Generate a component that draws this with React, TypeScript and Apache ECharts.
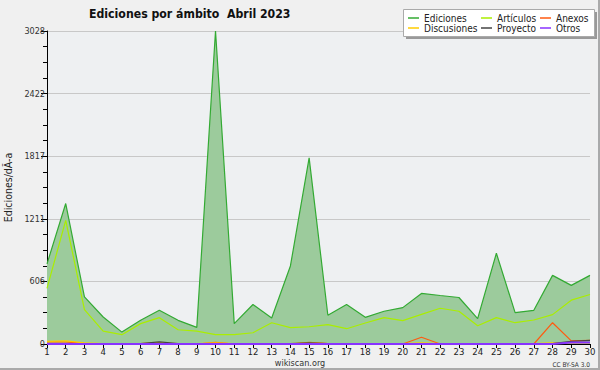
import React, { useEffect, useRef } from "react";
import * as echarts from "echarts";

const days = Array.from({ length: 30 }, (_, i) => String(i + 1));
const ediciones = [775, 1359, 456, 261, 115, 229, 326, 229, 161, 3028, 197, 382, 251, 755, 1800, 278, 382, 258, 317, 352, 489, 469, 450, 245, 878, 304, 326, 664, 567, 664];
const articulos = [538, 1196, 333, 125, 90, 197, 255, 138, 125, 90, 90, 109, 206, 158, 167, 187, 148, 203, 255, 226, 287, 346, 317, 177, 255, 206, 232, 284, 424, 479];
const anexos = [20, 20, 5, 0, 0, 5, 10, 0, 0, 15, 0, 0, 0, 0, 15, 5, 0, 0, 0, 0, 65, 0, 0, 0, 0, 0, 0, 206, 30, 35];
const discusiones = [25, 30, 10, 5, 5, 5, 10, 5, 5, 10, 5, 5, 5, 5, 10, 5, 5, 5, 5, 5, 10, 5, 5, 5, 5, 5, 5, 10, 10, 10];
const proyecto = [5, 5, 5, 5, 5, 5, 20, 5, 5, 5, 5, 5, 5, 5, 10, 5, 5, 5, 5, 5, 5, 5, 5, 5, 5, 5, 5, 5, 25, 35];
const otros = [0, 0, 0, 0, 0, 0, 0, 0, 0, 0, 0, 0, 0, 0, 0, 0, 0, 0, 0, 0, 0, 0, 0, 0, 0, 0, 0, 0, 15, 15];
const yMax = 3028;

const FONT = "'DejaVu Sans Condensed', 'DejaVu Sans', sans-serif";

export default function App() {
  const ref = useRef<HTMLDivElement>(null);
  useEffect(() => {
    const chart = echarts.init(ref.current!, null, { renderer: "svg" });
    const line = (name: string, data: number[], color: string, extra: any = {}) => ({
      name,
      type: "line",
      data,
      symbol: "none",
      lineStyle: { color, width: 1.2 },
      itemStyle: { color },
      ...extra,
    });
    const legendBase = {
      orient: "vertical",
      top: 13,
      itemWidth: 11,
      itemHeight: 1.5,
      itemGap: 0,
      icon: "rect",
      textStyle: { fontFamily: FONT, fontSize: 10, color: "#222", lineHeight: 10, padding: [0, 0, 0, 0] },
      padding: 0,
    };
    chart.setOption({
      animation: false,
      backgroundColor: "#f0f0f0",
      title: {
        text: "Ediciones por ámbito  Abril 2023",
        left: 84,
        top: 3,
        textStyle: { fontFamily: FONT, fontSize: 12.2, fontWeight: "bold", color: "#111" },
      },
      graphic: [
        { type: "rect", shape: { x: 406, y: 12, width: 191, height: 27 }, style: { fill: "#999" }, z: 5 },
        { type: "rect", shape: { x: 403.5, y: 9.5, width: 191, height: 27 }, style: { fill: "#fff", stroke: "#aaa", lineWidth: 1 }, z: 6 },
        { type: "text", x: 300, y: 358, style: { text: "wikiscan.org", fontFamily: FONT, fontSize: 9, fill: "#333", align: "center", verticalAlign: "top" } },
        { type: "text", x: 590, y: 361, style: { text: "CC BY-SA 3.0", fontFamily: FONT, fontSize: 6.5, fill: "#333", align: "right", verticalAlign: "top" } },
      ],
      legend: [
        { ...legendBase, left: 408, data: ["Ediciones", "Discusiones"], z: 10 },
        { ...legendBase, left: 481, data: ["Artículos", "Proyecto"], z: 10 },
        { ...legendBase, left: 540, data: ["Anexos", "Otros"], z: 10 },
      ],
      grid: {
        left: 47,
        right: 8,
        top: 31,
        bottom: 24,
        show: true,
        outerBoundsMode: "none",
        containLabel: false,
        backgroundColor: "#eef0f2",
        borderWidth: 0,
      },
      xAxis: {
        type: "category",
        data: days,
        boundaryGap: false,
        axisLine: { lineStyle: { color: "#000", width: 1 } },
        axisTick: { show: true, length: 4, alignWithLabel: true, lineStyle: { color: "#000" } },
        axisLabel: { fontFamily: FONT, fontSize: 9.5, color: "#222", margin: 2, interval: 0 },
      },
      yAxis: {
        type: "value",
        min: 0,
        max: yMax,
        interval: yMax / 5,
        name: "Ediciones/dÃ-a",
        nameLocation: "middle",
        nameGap: 30,
        nameTextStyle: { fontFamily: FONT, fontSize: 10.5, color: "#222" },
        axisLine: { show: true, lineStyle: { color: "#000", width: 1 } },
        axisTick: { show: true, length: 6, lineStyle: { color: "#000" } },
        minorTick: { show: true, splitNumber: 4, length: 4, lineStyle: { color: "#000" } },
        axisLabel: {
          fontFamily: FONT,
          fontSize: 9,
          color: "#333",
          margin: 2,
          formatter: (v: number) => String(Math.round(v)),
        },
        splitLine: { show: true, lineStyle: { color: "#c8c8c8", width: 1 } },
      },
      series: [
        line("Ediciones", ediciones, "#33aa33", {
          areaStyle: { color: "#9ccb9c", opacity: 1 },
          z: 2,
        }),
        line("Artículos", articulos, "#aaee00", { z: 3 }),
        line("Anexos", anexos, "#ff5a10", { z: 4 }),
        line("Discusiones", discusiones, "#ffcc00", { z: 4 }),
        line("Proyecto", proyecto, "#444444", { z: 4 }),
        line("Otros", otros, "#8833ff", { z: 5, lineStyle: { color: "#8833ff", width: 2 } }),
      ],
    });
    return () => chart.dispose();
  }, []);
  return (
    <div
      ref={ref}
      style={{
        position: "fixed",
        left: 0,
        top: 0,
        width: 600,
        height: 370,
        boxSizing: "border-box",
        borderRight: "2px solid #aaa",
        borderBottom: "2px solid #aaa",
      }}
    />
  );
}
